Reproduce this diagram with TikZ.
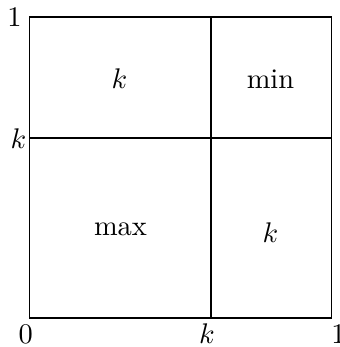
\documentclass[tikz,border=0pt]{standalone}
\begin{document}
\begin{tikzpicture}[x=0.352pt,y=-0.352pt,
  lbl/.style={inner sep=0pt,anchor=base}]
\useasboundingbox (0,0) rectangle (340,347);
\coordinate (bl) at (29.5,318);
\coordinate (tr) at (331.5,17);
\coordinate (vt) at (211,17);
\coordinate (vb) at (211,318);
\coordinate (hl) at (29.5,138);
\coordinate (hr) at (331.5,138);
\draw (bl) rectangle (tr);
\draw (vt) -- (vb);
\draw (hl) -- (hr);
\node[lbl] (one1) at (14.5,26) {$1$};
\node[lbl] (kl) at (18.5,148) {$k$};
\node[lbl] (zero) at (25.8,343) {$0$};
\node[lbl] (kb) at (207,343) {$k$};
\node[lbl] (one2) at (338.5,343) {$1$};
\node[lbl] (ktl) at (119.5,88) {$k$};
\node[lbl] (min) at (270.5,88) {min};
\node[lbl] (max) at (120.5,235) {max};
\node[lbl] (kbr) at (270.5,242) {$k$};
\end{tikzpicture}
\end{document}
